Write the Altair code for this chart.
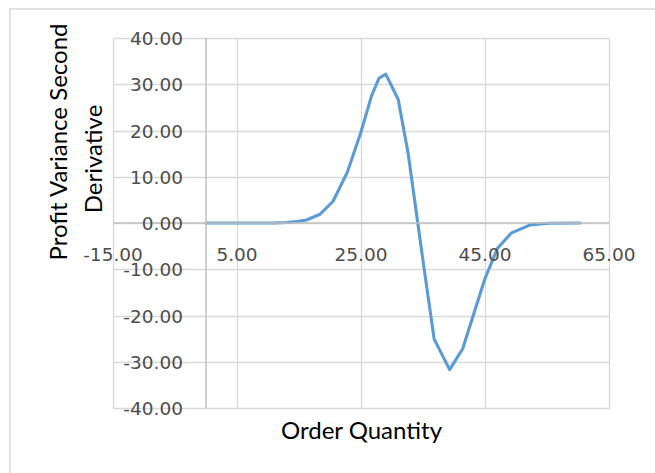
import altair as alt
import pandas as pd

# Second derivative of profit variance against order quantity
order_qty = [0, 4, 8, 11, 13, 14.6, 16.2, 18.4, 20.5, 22.8, 25, 26.7, 27.9, 29,
             31, 32.6, 35.1, 36.8, 39.3, 41.4, 43.1, 45, 47, 49.2, 52.3, 55.2, 60.3]
second_deriv = [0, 0, 0, 0.02, 0.1, 0.3, 0.65, 1.9, 4.7, 11, 19.7, 27.5, 31.3, 32.2,
                26.7, 15.1, -9.1, -25.1, -31.7, -27.2, -20, -12, -5.5, -2.2, -0.4, -0.07, 0]

x_ticks = [-15, 5, 25, 45, 65]
y_ticks = [-40, -30, -20, -10, 0, 10, 20, 30, 40]

x_title = "Order Quantity"
y_title_lines = ["Profit Variance Second", "Derivative"]

GRID = "#d9d9d9"
AXIS = "#bfbfbf"
LABEL = "#4d4d4d"
LINE = "#5b9bd5"
TICK_FONT = "DejaVu Sans"
TITLE_FONT = "Lato"

x_scale = alt.Scale(domain=[-15, 65], nice=False, zero=False)
y_scale = alt.Scale(domain=[-40, 40], nice=False, zero=False)

curve_df = pd.DataFrame({"q": order_qty, "d": second_deriv})
xlab_df = pd.DataFrame({"q": x_ticks, "d": 0, "label": [f"{v:.2f}" for v in x_ticks]})
ylab_df = pd.DataFrame({"q": 0, "d": y_ticks, "label": [f"{v:.2f}" for v in y_ticks]})
origin_df = pd.DataFrame({"q": [0], "d": [0]})

# chart frame around everything
frame = alt.Chart(origin_df).mark_rect(fill=None, stroke=GRID, strokeWidth=1.5).encode(
    x=alt.value(-103), x2=alt.value(560), y=alt.value(-29), y2=alt.value(460)
)

curve = alt.Chart(curve_df).mark_line(
    color=LINE, strokeWidth=3.1, strokeJoin="round", strokeCap="round"
).encode(
    x=alt.X("q:Q", scale=x_scale,
            axis=alt.Axis(values=x_ticks, grid=True, gridColor=GRID, gridWidth=1.3,
                          labels=False, ticks=False, domain=False,
                          title=x_title, titleFont=TITLE_FONT, titleFontSize=24,
                          titleFontWeight="normal", titleColor="#000000",
                          titleBaseline="alphabetic", titleY=30)),
    y=alt.Y("d:Q", scale=y_scale,
            axis=alt.Axis(values=y_ticks, grid=True, gridColor=GRID, gridWidth=1.3,
                          labels=False, ticks=False, domain=False, title=None)),
)

x_axis_line = alt.Chart(origin_df).mark_rule(color=AXIS, strokeWidth=1.5).encode(
    y=alt.Y("d:Q", scale=y_scale)
)
y_axis_line = alt.Chart(origin_df).mark_rule(color=AXIS, strokeWidth=1.5).encode(
    x=alt.X("q:Q", scale=x_scale)
)

x_labels = alt.Chart(xlab_df).mark_text(
    font=TICK_FONT, fontSize=18.5, color=LABEL, align="center", baseline="alphabetic", dy=38
).encode(x=alt.X("q:Q", scale=x_scale), y=alt.Y("d:Q", scale=y_scale), text="label:N")

y_labels = alt.Chart(ylab_df).mark_text(
    font=TICK_FONT, fontSize=18.5, color=LABEL, align="right", baseline="alphabetic", dx=-23, dy=7
).encode(x=alt.X("q:Q", scale=x_scale), y=alt.Y("d:Q", scale=y_scale), text="label:N")

# two-line vertical title for the value axis
y_title_1 = alt.Chart(origin_df).mark_text(
    font=TITLE_FONT, fontSize=24, color="#000000", angle=270, align="center", baseline="alphabetic"
).encode(x=alt.value(-46), y=alt.value(104), text=alt.value(y_title_lines[0]))
y_title_2 = alt.Chart(origin_df).mark_text(
    font=TITLE_FONT, fontSize=24, color="#000000", angle=270, align="center", baseline="alphabetic"
).encode(x=alt.value(-11), y=alt.value(121), text=alt.value(y_title_lines[1]))

chart = alt.layer(
    frame, curve, x_axis_line, y_axis_line, x_labels, y_labels, y_title_1, y_title_2
).properties(
    width=496, height=370,
    padding={"left": 113, "top": 38, "right": 46, "bottom": 65},
    autosize=alt.AutoSizeParams(type="none"),
    background="white",
).configure_view(stroke=None)

chart.save("out.html", embed_options={"renderer": "svg", "actions": False})
